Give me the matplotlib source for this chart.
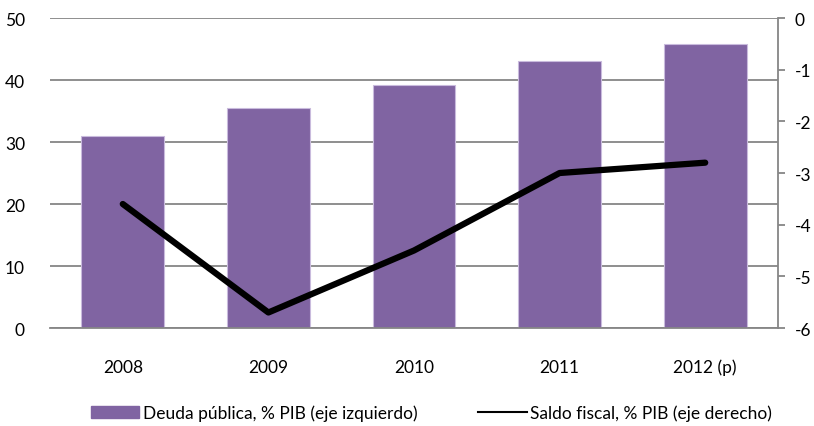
import numpy as np
import matplotlib
matplotlib.use("Agg")
import matplotlib.pyplot as plt
from matplotlib.patches import Patch
from matplotlib.lines import Line2D

matplotlib.rcParams['font.family'] = ['Lato', 'DejaVu Sans']
matplotlib.rcParams['axes.unicode_minus'] = False

years = ["2008", "2009", "2010", "2011", "2012 (p)"]
deuda = [30.9, 35.5, 39.2, 43.1, 45.8]
saldo = [-3.6, -5.7, -4.5, -3.0, -2.8]

purple = "#8064A2"
grid_c = "#868686"
text_size = 12.5

fig = plt.figure(figsize=(8.14, 4.27), dpi=100)
ax = fig.add_axes([0.0614, 0.2295, 0.8944, 0.726])
x = np.arange(len(years))

ax.bar(x, deuda, width=0.57, color=purple, edgecolor="#C9BBDD", linewidth=0.8, zorder=2)
ax.set_ylim(0, 50)
ax.set_xlim(-0.5, len(years) - 0.5)
ax.set_yticks(np.arange(0, 51, 10))
ax.yaxis.grid(True, color=grid_c, lw=1.3, zorder=0)
ax.set_axisbelow(True)
for s in ["top", "left", "right"]:
    ax.spines[s].set_visible(False)
ax.spines["bottom"].set_color(grid_c)
ax.spines["bottom"].set_linewidth(1.3)
ax.set_xticks(x)
ax.set_xticklabels(years)
ax.tick_params(axis="x", length=0, pad=22, labelsize=text_size)
ax.tick_params(axis="y", length=0, pad=18, labelsize=text_size)

ax2 = ax.twinx()
ax2.plot(x, saldo, color="black", lw=4.5, solid_capstyle="round", solid_joinstyle="round", zorder=3)
ax2.set_ylim(-6, 0)
ax2.set_yticks(np.arange(-6, 1, 1))
for s in ["top", "left", "bottom"]:
    ax2.spines[s].set_visible(False)
ax2.spines["right"].set_color(grid_c)
ax2.spines["right"].set_linewidth(1.3)
ax2.tick_params(axis="y", direction="out", length=5, width=1.3, color=grid_c, pad=7, labelsize=text_size)

handles = [Patch(facecolor=purple, edgecolor=purple),
           Line2D([0], [0], color="black", lw=1.5)]
labels = ["Deuda pública, % PIB (eje izquierdo)", "Saldo fiscal, % PIB (eje derecho)"]
fig.legend(handles, labels, loc="center", bbox_to_anchor=(0.53, 0.03), ncol=2, frameon=False,
           prop={'size': text_size}, handlelength=2.8, handletextpad=0.2, columnspacing=3.5)

plt.savefig("out.png", dpi=100)
